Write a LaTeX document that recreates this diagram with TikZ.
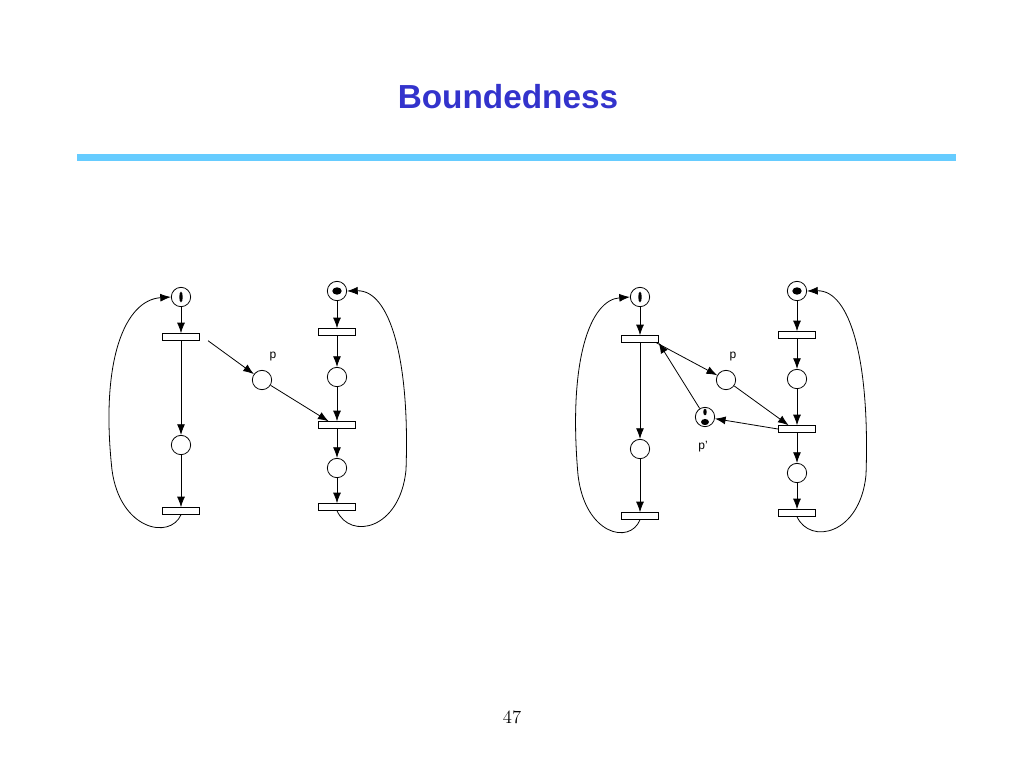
\documentclass[tikz,border=0pt]{standalone}
\usepackage{fontspec}
\setsansfont{Liberation Sans}
\usetikzlibrary{arrows.meta}
\definecolor{titleblue}{RGB}{51,51,204}
\definecolor{barblue}{RGB}{102,204,255}
\begin{document}
\begin{tikzpicture}[x=0.75pt,y=-0.75pt,
 pl/.style={draw,circle,minimum size=14.5pt,inner sep=0pt,line width=0.6pt},
 tr/.style={draw,rectangle,minimum width=28pt,minimum height=5pt,inner sep=0pt,line width=0.6pt},
 arc/.style={-{Latex[length=8pt,width=6pt]},line width=0.6pt},
 lab/.style={font=\sffamily\small}]
\useasboundingbox (0,0) rectangle (1024,768);
\node[font=\sffamily\bfseries\fontsize{25}{30}\selectfont,text=titleblue] (title) at (508,97) {Boundedness};
\fill[barblue] (77,153.5) rectangle (956,160.5);
\node[font=\fontsize{14}{16}\selectfont] (num) at (512,717) {47};
% left net
\node[pl] (a) at (181,297) {}; \fill (181,297) ellipse (1.3pt and 4pt);
\node[tr] (t1) at (181,337) {};
\node[pl] (l2) at (181,445) {};
\node[tr] (t3) at (181,511) {};
\node[pl] (p) at (262,380) {}; \node[lab] (pl1) at (273,357) {p};
\node[pl] (b) at (337,291) {}; \fill (337,291) ellipse (3.5pt and 2.8pt);
\node[tr] (t4) at (337,332) {};
\node[pl] (m1) at (337,377) {};
\node[tr] (t2) at (337,425) {};
\node[pl] (m2) at (337,468) {};
\node[tr] (t5) at (337,507) {};
\draw[arc] (a) -- (t1);
\draw[arc] (t1) -- (l2);
\draw[arc] (l2) -- (t3);
\draw[arc] ([xshift=6]t1.south east) -- (p);
\draw[arc] (p) -- ([xshift=8]t2.north west);
\draw[arc] (b) -- (t4);
\draw[arc] (t4) -- (m1);
\draw[arc] (m1) -- (t2);
\draw[arc] (t2) -- (m2);
\draw[arc] (m2) -- (t5);
\draw[arc] (t3.south) .. controls (170,540) and (120,530) .. (112,470) .. controls (100,360) and (125,300) .. (a.west);
\draw[arc] (t5.south) .. controls (350,540) and (400,530) .. (406,470) .. controls (410,360) and (390,290) .. (b.east);
% right net
\node[pl] (c) at (640,297) {}; \fill (640,297) ellipse (1.3pt and 4pt);
\node[tr] (u1) at (640,339) {};
\node[pl] (n2) at (640,449) {};
\node[tr] (u3) at (640,516) {};
\node[pl] (q) at (726,380) {}; \node[lab] (ql) at (733,357) {p};
\node[pl] (qq) at (705,417) {}; \fill (705,412) ellipse (1.3pt and 2.5pt); \fill (705,422) ellipse (3pt and 2.3pt);
\node[lab] (qql) at (703,447) {p'};
\node[pl] (d) at (797,291) {}; \fill (797,291) ellipse (3.5pt and 2.8pt);
\node[tr] (u4) at (797,335) {};
\node[pl] (k1) at (797,379) {};
\node[tr] (u2) at (797,429) {};
\node[pl] (k2) at (797,473) {};
\node[tr] (u5) at (797,513) {};
\draw[arc] (c) -- (u1);
\draw[arc] (u1) -- (n2);
\draw[arc] (n2) -- (u3);
\draw[arc] ([xshift=-2]u1.south east) -- (q);
\draw[arc] (q) -- ([xshift=8]u2.north west);
\draw[arc] (u2.west) -- (qq);
\draw[arc] (qq) -- ([xshift=14]u1.south);
\draw[arc] (d) -- (u4);
\draw[arc] (u4) -- (k1);
\draw[arc] (k1) -- (u2);
\draw[arc] (u2) -- (k2);
\draw[arc] (k2) -- (u5);
\draw[arc] (u3.south) .. controls (630,545) and (585,535) .. (578,475) .. controls (568,360) and (590,300) .. (c.west);
\draw[arc] (u5.south) .. controls (810,545) and (860,535) .. (866,475) .. controls (870,360) and (850,290) .. (d.east);
\end{tikzpicture}
\end{document}
